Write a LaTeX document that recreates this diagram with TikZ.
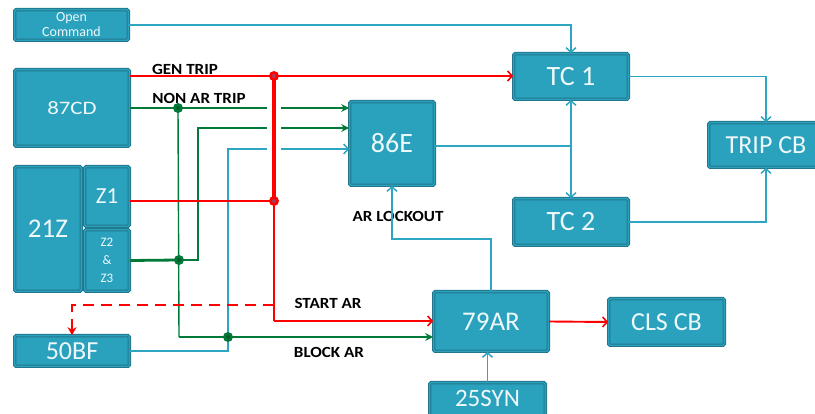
\documentclass[tikz,border=0pt]{standalone}
\usepackage{fontspec}
\setmainfont{Carlito}
\newfontfamily\lblfont[FakeStretch=1.2]{Carlito}
\newfontfamily\lblboldfont[FakeStretch=1.1]{Carlito Bold}
\usetikzlibrary{arrows.meta,calc}
\definecolor{boxfill}{HTML}{2AA2BE}
\definecolor{boxdark}{HTML}{22768C}
\definecolor{lblue}{HTML}{2EA5C1}
\definecolor{rred}{HTML}{FF0000}
\definecolor{ggreen}{HTML}{007A38}
\definecolor{boxtext}{HTML}{EEF8FA}
\definecolor{rdotin}{HTML}{A04060}
\definecolor{gdotin}{HTML}{0A5A2A}
\begin{document}
\begin{tikzpicture}[x=1pt,y=-1pt,
  box/.style={draw=boxdark, fill=boxfill, line width=1pt, double=boxfill,
    double distance=1.3pt, rounded corners=1.5pt, inner sep=0pt,
    text=boxtext, align=center},
  bt/.tip={Straight Barb[length=4.5pt,width=10pt,line width=1.5pt]},
  rt/.tip={Straight Barb[length=4.5pt,width=10pt,line width=1.6pt]},
  gt/.tip={Stealth[length=8pt,width=8pt]},
  rdt/.tip={Stealth[length=8pt,width=9pt]},
  bl/.style={draw=lblue, line width=1.9pt},
  blthin/.style={draw=lblue, line width=1.4pt},
  gthick/.style={draw=ggreen, line width=2.8pt},
  gthin/.style={draw=ggreen, line width=1.4pt},
  rl/.style={draw=rred, line width=1.9pt},
  rthick/.style={draw=rred, line width=3.4pt},
  rmid/.style={draw=rred, line width=2.5pt},
  rdash/.style={draw=rred, line width=2.9pt, dash pattern=on 11pt off 7pt},
  lbl/.style={font=\lblboldfont\fontsize{15.5}{16}\selectfont, inner sep=0pt, text=black},
  rdot/.style={circle, fill=rred, inner sep=0pt, minimum size=10pt,
    path picture={\fill[rdotin] (path picture bounding box.center) circle (2pt);}},
  gdot/.style={circle, fill=ggreen, inner sep=0pt, minimum size=10pt,
    path picture={\fill[gdotin] (path picture bounding box.center) circle (2pt);}},
]
\useasboundingbox (0,0) rectangle (815,414);

% ---------- boxes ----------
\node[box, minimum width=113.7, minimum height=30.7,
  font=\fontsize{14}{15}\selectfont] (open) at (71.5,25) {Open\\Command};
\node[box, minimum width=114.7, minimum height=76.7,
  font=\lblfont\fontsize{19}{19}\selectfont] (cd) at (72,108) {87CD};
\node[box, minimum width=66.7, minimum height=124.7,
  font=\fontsize{27}{27}\selectfont] (z) at (48,229) {21Z};
\node[box, minimum width=44.7, minimum height=59.7,
  font=\fontsize{23}{23}\selectfont] (z1) at (107,196.5) {Z1};
\node[box, minimum width=44.7, minimum height=61.7,
  font=\fontsize{13}{18}\selectfont] (z23) at (107,260.5) {Z2\\\&\\Z3};
\node[box, minimum width=114.7, minimum height=30.7,
  font=\fontsize{26}{26}\selectfont] (bf) at (72,351) {50BF};
\node[box, minimum width=84.7, minimum height=83.7,
  font=\fontsize{28}{28}\selectfont] (e86) at (392,143.5) {86E};
\node[box, minimum width=114.7, minimum height=45.7,
  font=\fontsize{28}{28}\selectfont] (tc1) at (571,76.5) {TC 1};
\node[box, minimum width=114.7, minimum height=46.7,
  font=\fontsize{28}{28}\selectfont] (tc2) at (571,222) {TC 2};
\node[box, minimum width=114.7, minimum height=44.7,
  font=\fontsize{26}{26}\selectfont] (trip) at (766,145) {TRIP CB};
\node[box, minimum width=114.7, minimum height=59.7,
  font=\fontsize{27}{27}\selectfont] (ar) at (491,321.5) {79AR};
\node[box, minimum width=115.7, minimum height=33.7,
  font=\fontsize{25}{25}\selectfont] (syn) at (487.5,399.5) {\raisebox{3pt}{25SYN}};
\node[box, minimum width=115.7, minimum height=46.7,
  font=\fontsize{26}{26}\selectfont] (cls) at (666.5,322) {CLS CB};

% ---------- labels ----------
\node[lbl] (lgen) at (185,69) {GEN TRIP};
\node[lbl] (lnon) at (199,98) {NON AR TRIP};
\node[lbl] (llock) at (398,216) {AR LOCKOUT};
\node[lbl] (lstart) at (328,303) {START AR};
\node[lbl] (lblock) at (329,352) {BLOCK AR};

% ---------- coordinates ----------
\coordinate (jgen) at (274,76);
\coordinate (jz1) at (274,201);
\coordinate (jdash) at (274,305);
\coordinate (jstart) at (274,321);
\coordinate (jnon) at (178,108);
\coordinate (jz23) at (179,260);
\coordinate (jblock) at (179,337);
\coordinate (gbend) at (198,128);
\coordinate (bbend) at (228,149);
\coordinate (jbf) at (228,337);
\coordinate (jtc) at (571,146);
\coordinate (lk) at (392,239);
\coordinate (hopA) at (274,100);
\coordinate (hopB) at (274,157);

% ---------- blue connectors ----------
\draw[bl, -{bt}] (open.east) -| (tc1.north);
\draw[blthin, -{bt}] (bf.east) -| (bbend) -- (bbend -| e86.west);
\draw[blthin] (e86.east |- jtc) -- (jtc);
\draw[bl, {bt}-{bt}] (tc1.south) -- (tc2.north);
\draw[bl, -{bt}] (tc1.east) -| (trip.north);
\draw[bl, -{bt}] (tc2.east) -| (trip.south);
\draw[bl, -{bt}] (ar.north) |- (lk) -- (e86.south);
\draw[bl, -{bt}] (syn.north) -- (syn.north |- ar.south);

% ---------- green connectors ----------
\draw[gthick, -{gt}] (cd.east) -- (jnon -| e86.west);
\draw[gthin] (jnon) -- (jblock);
\draw[gthick] (z23.east) -- (jz23);
\draw[gthin, -{gt}] (jz23) -| (gbend) -- (gbend -| e86.west);
\draw[gthick, -{gt}] (jblock) -- (jblock -| ar.west);

% ---------- line hop ----------
\draw[white, line width=14pt] (hopA) -- (hopB);

% ---------- red connectors ----------
\draw[rl, -{rt}] (jgen -| cd.east) -- (jgen -| tc1.west);
\draw[rthick] (jgen) -- (jz1);
\draw[rmid] (jz1) -- (jstart);
\draw[rl] (z1.east |- jz1) -- (jz1);
\draw[rl, -{rt}] (jstart) -- (jstart -| ar.west);
\draw[rdash, -{rdt}] (jdash) -| (bf.north);
\draw[rl, -{rt}] (ar.east) -- (cls.west);

% ---------- junction dots ----------
\node[rdot] (dgen) at (jgen) {};
\node[rdot] (dz1) at (jz1) {};
\node[gdot] (dnon) at (jnon) {};
\node[gdot] (dz23) at (jz23) {};
\node[gdot] (dbf) at (jbf) {};
\end{tikzpicture}
\end{document}
